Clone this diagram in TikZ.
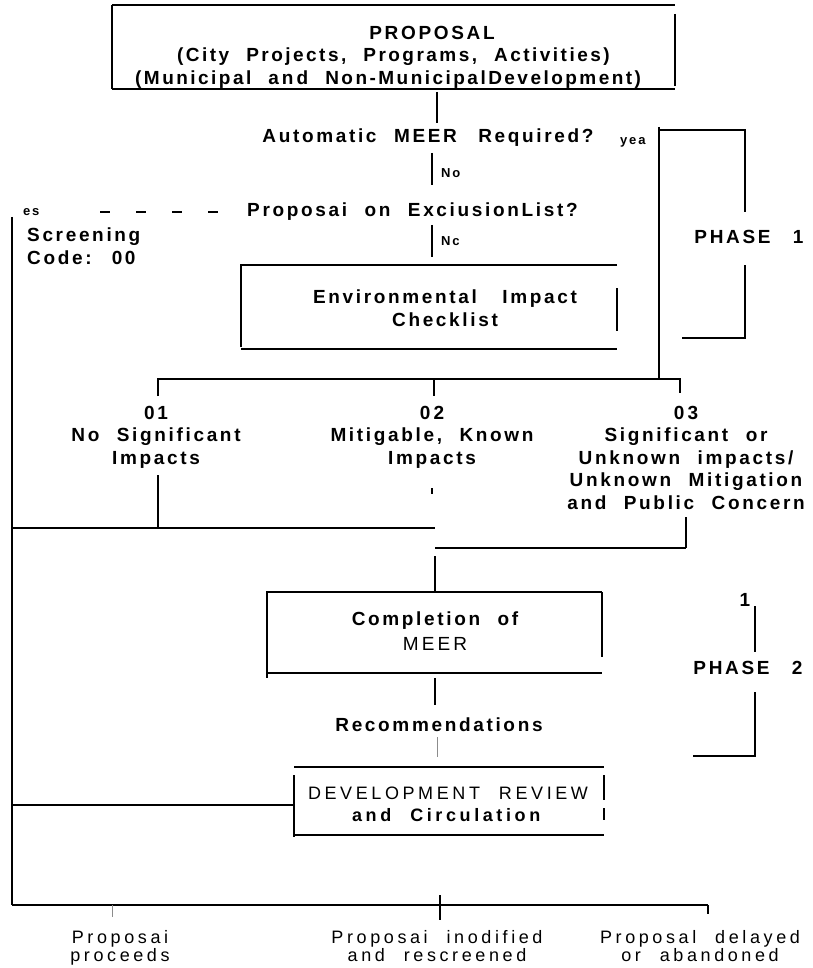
\documentclass[tikz,border=0pt]{standalone}
\usepackage{fontspec}
\setmainfont{Liberation Sans}[LetterSpace=14,WordSpace=2.2]
\newfontfamily\wideprop{Liberation Sans}[LetterSpace=13,WordSpace=2.2]
\begin{document}
\begin{tikzpicture}[x=1pt,y=-1pt,
  ln/.style={line width=1.6pt},
  fn/.style={line width=1.1pt},
  faint/.style={line width=0.9pt, black!45},
  bt/.style={font=\fontsize{19}{22.5}\selectfont\bfseries, inner sep=0pt, align=center},
  pt/.style={font=\fontsize{19}{22.5}\selectfont\wideprop\bfseries, inner sep=0pt},
  rt/.style={font=\fontsize{18}{18}\selectfont\addfontfeature{LetterSpace=20}, inner sep=0pt, align=center},
  st/.style={font=\fontsize{13}{15}\selectfont\bfseries, inner sep=0pt},
  dsh/.style={line width=1.1pt, dash pattern=on 10pt off 26pt}]
\useasboundingbox (0,0) rectangle (812,968);

% ---------- text nodes ----------
\node[bt, anchor=base] (prop) at (432,40) {PROPOSAL};
\node[pt, anchor=base west] (prop2) at (177,62) {(City Projects, Programs, Activities)};
\node[pt, anchor=base west] (prop3) at (135,85) {(Municipal a\hspace{3pt}n\hspace{3pt}d Non-MunicipalDevelopment)};
\node[bt, anchor=base] (auto) at (428,143) {Automatic MEER\hspace{4pt} Required?};
\node[st, anchor=base west] (yes) at (620,145) {yea};
\node[st, anchor=base west] (no1) at (441,178) {No};
\node[bt, anchor=base west] (excl) at (247,217) {Proposai on ExciusionList?};
\node[st, anchor=base west] (es) at (23,216) {es};
\node[bt, anchor=north west, align=left] (scr) at (27,228) {Screening\\Code: 00};
\node[st, anchor=base west] (no2) at (441,245) {Nc};
\node[bt, anchor=north] (eic) at (445,290) {Environmental\hspace{8pt} Impact\\Checklist};
\node[bt] (ph1) at (749,237) {PHASE\hspace{5pt} 1};
\node[bt, anchor=north] (o1) at (156,406) {01\\No Significant\\Impacts};
\node[bt, anchor=north] (o2) at (432,406) {0\,2\\Mitigable, Known\\Impacts};
\node[bt, anchor=north] (o3) at (686,406) {0\,3\\Significant or\\Unknown impacts/\\Unknown Mitigation\\and Public Concern};
\node[bt, anchor=north] (meer) at (435,612) {Completion of\\[2.5pt]{\mdseries M\,E\,E\,R}};
\node[bt, anchor=base] (rec) at (439,731) {Recommendations};
\node[bt, anchor=base] (one) at (745,606) {1};
\node[bt] (ph2) at (748,668) {PHASE\hspace{5pt} 2};
\node[rt, anchor=north] (dev) at (448,787) {DEVELOPMENT REVIEW\\[4pt]\textbf{and Circulation}};
\node[rt, anchor=north] (b1) at (120,930) {Proposai\\proceeds};
\node[rt, anchor=north] (b2) at (437,930) {Proposai inodified\\and rescreened};
\node[rt, anchor=north] (b3) at (700,930) {Proposal delayed\\or abandoned};

% ---------- named points ----------
\coordinate (pTL) at (112,5);   \coordinate (pTR) at (675,5);
\coordinate (pBL) at (112,89);  \coordinate (pBR) at (675,89);
\coordinate (pOut) at (437,92); \coordinate (aIn) at (437,123);
\coordinate (yTop) at (659,127); \coordinate (yCorner) at (659,130);
\coordinate (b1a) at (745,130); \coordinate (b1b) at (745,212);
\coordinate (b1c) at (745,265); \coordinate (b1d) at (745,338); \coordinate (b1e) at (682,338);
\coordinate (n1a) at (432,153); \coordinate (n1b) at (432,185);
\coordinate (dA) at (100,212);  \coordinate (dB) at (238,212);
\coordinate (lTop) at (12,217); \coordinate (lBot) at (12,905);
\coordinate (n2a) at (432,225); \coordinate (n2b) at (432,257);
\coordinate (eTL) at (241,265); \coordinate (eTR) at (617,265);
\coordinate (eBL) at (241,349); \coordinate (eBR) at (617,349);
\coordinate (hL) at (158,379);  \coordinate (hM) at (434,379);
\coordinate (hY) at (659,379);  \coordinate (hR) at (680,379);
\coordinate (m1) at (435,528);  \coordinate (l1) at (12,528);
\coordinate (m2a) at (435,548); \coordinate (m2b) at (686,548);
\coordinate (mTL) at (267,592); \coordinate (mTR) at (602,592);
\coordinate (mBL) at (267,673); \coordinate (mBR) at (602,673);
\coordinate (dTL) at (294,767); \coordinate (dTR) at (604,767);
\coordinate (dBL) at (294,835); \coordinate (dBR) at (604,835);
\coordinate (dIn) at (294,805); \coordinate (dL) at (12,805);
\coordinate (bR) at (708,905);  \coordinate (bM) at (440,905);

% ---------- proposal box ----------
\draw[ln] (pTL) -- (pTR);
\draw[fn] (pTL) -- (pBL);
\draw[fn] (675,14) -- (675,86);
\draw[ln] (pBL) -- (pBR);
\draw[fn] (pOut) -- (aIn);

% ---------- phase 1 ----------
\draw[ln] (yTop) -- (hY);
\draw[fn] (yCorner) -- (b1a) -- (b1b);
\draw[fn] (b1c) -- (b1d) -- (b1e);
\draw[fn] (n1a) -- (n1b);
\draw[dsh] (dA) -- (dB);
\draw[ln] (lTop) -- (lBot);
\draw[fn] (n2a) -- (n2b);

% ---------- checklist box ----------
\draw[ln] (eTR) -- (eTL) -- ([yshift=2pt]eBL);
\draw[ln] (eBL) -- (eBR);
\draw[fn] (617,288) -- (617,331);

% ---------- branches ----------
\draw[ln] (158,396) -- (hL) -- (hR) -- (680,393);
\draw[fn] (hM) -- (434,396);
\draw[fn] (158,475) -- (158,528);
\draw[ln] (l1) -- (m1);
\draw[fn] (432,488) -- (432,494);
\draw[fn] (686,517) -- (m2b);
\draw[ln] (m2a) -- (m2b);
\draw[fn] (435,556) -- (435,592);

% ---------- MEER box ----------
\draw[ln] (mTR) -- (mTL) -- (267,678);
\draw[ln] (mBL) -- (mBR);
\draw[fn] (mTR) -- (602,657);
\draw[fn] (435,678) -- (435,705);
\draw[faint] (437,737) -- (437,757);

% ---------- phase 2 ----------
\draw[fn] (755,606) -- (755,652);
\draw[fn] (755,692) -- (755,756) -- (693,756);

% ---------- development review ----------
\draw[ln] (dTL) -- (dTR);
\draw[fn] (294,775) -- (294,837);
\draw[ln] (dBL) -- (dBR);
\draw[fn] (604,775) -- (604,800);
\draw[fn] (604,808) -- (604,820);
\draw[ln] (dL) -- (dIn);

% ---------- outcomes ----------
\draw[ln] (lBot) -- (bR);
\draw[faint] (112,905) -- (112,917);
\draw[fn] (440,895) -- (440,920);
\draw[fn] (bR) -- (708,914);
\end{tikzpicture}
\end{document}
